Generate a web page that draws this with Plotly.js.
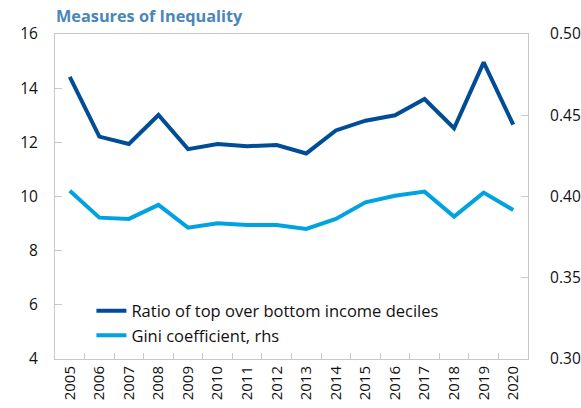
<!DOCTYPE html>
<html><head><meta charset="utf-8">
<script src="https://cdn.plot.ly/plotly-3.0.1.min.js"></script>
<style>body{margin:0;background:#fff}#c{width:581px;height:408px}</style>
</head><body><div id="c"></div>
<script>
const years = ['2005','2006','2007','2008','2009','2010','2011','2012','2013','2014','2015','2016','2017','2018','2019','2020'];
const ratioTopBottom = [14.42,12.21,11.94,13.01,11.75,11.94,11.86,11.9,11.59,12.44,12.8,13.0,13.6,12.52,14.95,12.65];
const gini = [0.4036,0.387,0.3862,0.3948,0.3808,0.3835,0.3825,0.3825,0.38,0.3862,0.3964,0.4005,0.403,0.3876,0.4024,0.3917];
const leftTicks = [4,6,8,10,12,14,16];
const rightTicks = [0.30,0.35,0.40,0.45,0.50];

const fnt = {family:'Open Sans, Noto Sans, sans-serif', size:15.5, color:'#111'};
const axisCol = '#c8c8c8';
const data = [
  {x:years, y:ratioTopBottom, type:'scatter', mode:'lines', name:'Ratio of top over bottom income deciles',
   line:{color:'#004c97', width:4}},
  {x:years, y:gini, type:'scatter', mode:'lines', name:'Gini coefficient, rhs', yaxis:'y2',
   line:{color:'#00a3e0', width:4}}
];
const layout = {
  width:581, height:408,
  margin:{l:55, r:53, t:34, b:49},
  paper_bgcolor:'#fff', plot_bgcolor:'#fff',
  font:fnt,
  showlegend:true,
  title:{text:'<b>Measures of Inequality</b>', x:56/581, xanchor:'left', y:0.96, yanchor:'middle',
         font:{family:'Open Sans, Noto Sans, sans-serif', size:16.3, color:'#4a86b8'}},
  xaxis:{type:'category', range:[-0.5,15.5], tickangle:-90, showline:true, linecolor:axisCol, linewidth:1,
         mirror:true, ticks:'inside', tickson:'boundaries', ticklen:6, tickcolor:axisCol,
         showgrid:false, zeroline:false, tickfont:{size:15, color:'#111'}},
  yaxis:{range:[4,16], tickvals:leftTicks, ticktext:leftTicks.map(String), showline:true, linecolor:axisCol,
         ticks:'inside', ticklen:7, tickcolor:axisCol, showgrid:false, zeroline:false, ticklabelstandoff:13},
  yaxis2:{range:[0.30,0.50], tickvals:rightTicks, ticktext:rightTicks.map(v=>v.toFixed(2)), overlaying:'y', side:'right',
          showline:true, linecolor:axisCol, ticks:'inside', ticklen:7, tickcolor:axisCol, showgrid:false,
          zeroline:false, ticklabelstandoff:18},
  legend:{x:0.077, y:0.02, xanchor:'left', yanchor:'bottom', bgcolor:'rgba(0,0,0,0)',
          font:{size:16.5, color:'#111'}, tracegroupgap:0, itemwidth:30}
};
Plotly.newPlot('c', data, layout, {displayModeBar:false, staticPlot:true});
</script></body></html>
